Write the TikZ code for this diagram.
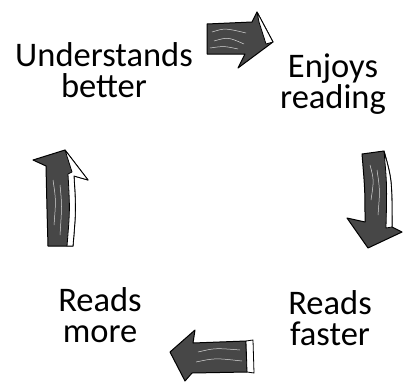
\documentclass[tikz,border=0pt]{standalone}
\usepackage{fontspec}
\setmainfont{Carlito}
\begin{document}
\begin{tikzpicture}[x=1pt,y=-1pt,
  lbl/.style={align=center,font=\fontsize{34.5}{31}\selectfont,inner sep=0pt,anchor=base},
  arr/.style={fill=black!72,draw=black,line width=1pt,line join=round},
  strip/.style={fill=white,draw=black,line width=0.8pt,line join=round},
  streak/.style={draw=white!85!black,line width=0.5pt}]
\useasboundingbox (0,0) rectangle (404,383);
\fill[white] (0,0) rectangle (404,383);
% labels (anchor = baseline of last line)
\node[lbl] (und) at (104,97) {Understands\\better};
\node[lbl] (enj) at (333,108) {Enjoys\\reading};
\node[lbl] (fas) at (330,345) {Reads\\faster};
\node[lbl] (mor) at (100,342) {Reads\\more};
% top arrow (to the right)
\draw[arr] (207,24) -- (252,22) -- (257,12) -- (273,42) -- (238,68) -- (245,54) -- (207,54) -- cycle;
\draw[strip] (257,12) -- (273,42) -- (266,44) -- (259,22) -- cycle;
\draw[streak] (212,32) .. controls (225,28) .. (246,33);
\draw[streak] (214,41) .. controls (228,37) .. (244,44);
\draw[streak] (210,48) .. controls (224,46) .. (238,49);
% right arrow (down)
\draw[arr] (362,154) -- (384,151) .. controls (392,180) .. (392,227) -- (402,232) -- (368,248) -- (347,218) -- (365,222) .. controls (365,190) .. (362,154) -- cycle;
\draw[strip] (384,151) .. controls (392,180) .. (392,227) -- (386,228) .. controls (387,185) .. (384,151) -- cycle;
\draw[streak] (370,165) .. controls (374,180) .. (371,200);
\draw[streak] (377,170) .. controls (380,190) .. (378,215);
% bottom arrow (to the left)
\draw[arr] (170,352) -- (195,330) -- (193,343) -- (246,341) -- (247,372) -- (192,373) -- (185,381) -- cycle;
\draw[strip] (246,341) -- (253,340) -- (254,373) -- (247,372) -- cycle;
\draw[streak] (198,352) .. controls (215,348) .. (240,350);
\draw[streak] (196,362) .. controls (215,358) .. (242,361);
% left arrow (up)
\draw[arr] (65,150) -- (88,180) -- (74,176) .. controls (76,210) .. (73,246) -- (48,246) .. controls (47,210) .. (46,166) -- (33,160) -- cycle;
\draw[strip] (65,150) -- (88,180) -- (74,176) .. controls (76,210) .. (73,246) -- (67,246) .. controls (70,210) .. (68,174) -- (72,172) -- cycle;
\draw[streak] (53,180) .. controls (56,200) .. (54,225);
\draw[streak] (60,185) .. controls (62,205) .. (60,235);
\end{tikzpicture}
\end{document}
